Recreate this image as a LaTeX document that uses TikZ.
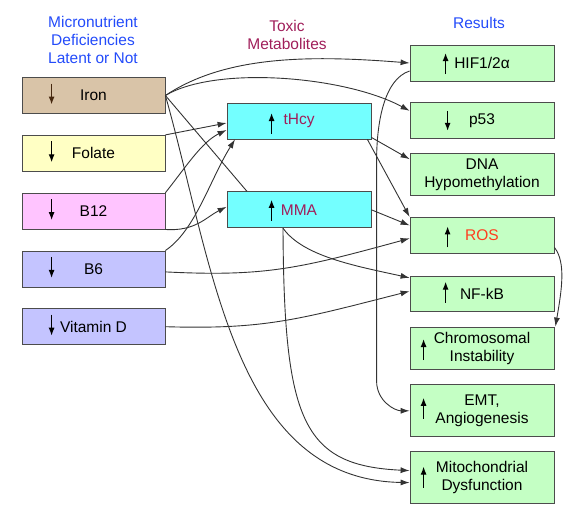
\documentclass[tikz,border=0pt]{standalone}
\usepackage{fontspec}
\setmainfont{Liberation Sans}
\usetikzlibrary{positioning, arrows.meta, calc}
\definecolor{ironfill}{RGB}{217,196,168}
\definecolor{folatefill}{RGB}{255,255,196}
\definecolor{btwelvefill}{RGB}{255,196,255}
\definecolor{bsixfill}{RGB}{196,196,255}
\definecolor{metafill}{RGB}{115,255,255}
\definecolor{resfill}{RGB}{196,255,196}
\definecolor{headblue}{RGB}{35,75,250}
\definecolor{maroon}{RGB}{160,30,90}
\definecolor{rosred}{RGB}{255,60,30}
\definecolor{ironmark}{RGB}{70,40,15}
\tikzset{
	>={Latex[length=9pt,width=6pt]},
	txt/.style={font=\fontsize{15.5}{18}\selectfont, align=center},
	box/.style={txt, draw=black!70, line width=0.8pt, minimum width=143pt, minimum height=36pt, inner sep=1pt},
	leftbox/.style={box},
	metabox/.style={box, fill=metafill, minimum width=144pt, text=maroon},
	resbox/.style={box, fill=resfill, minimum width=144pt},
	link/.style={->, draw=black!80, line width=0.9pt},
	updn/.style={-{Latex[length=8pt,width=6pt]}, line width=1.2pt},
}

\begin{document}
\begin{tikzpicture}[x=1pt, y=-1pt]
	\useasboundingbox (0,0) rectangle (563,514);

	% headers
	\node[txt, text=headblue] (defhead) at (93,40) {Micronutrient\\Deficiencies\\Latent or Not};
	\node[txt, text=maroon] (metahead) at (287,35) {Toxic\\Metabolites};
	\node[txt, text=headblue] (reshead) at (479,23) {Results};

	% deficiencies
	\node[leftbox, fill=ironfill] (Iron) at (93.5,95.5) {Iron};
	\node[leftbox, fill=folatefill, below=21pt of Iron] (Folate) {Folate};
	\node[leftbox, fill=btwelvefill, below=21pt of Folate] (B12) {B12};
	\node[leftbox, fill=bsixfill, below=21pt of B12] (B6) {B6};
	\node[leftbox, fill=bsixfill, below=21pt of B6] (VitD) {Vitamin D};

	% metabolites
	\node[metabox] (tHcy) at (299,121) {tHcy};
	\node[metabox, below=52pt of tHcy] (MMA) {MMA};

	% results
	\node[resbox] (HIF) at (482,63) {HIF1/2α};
	\node[resbox, below=21pt of HIF] (p53) {p53};
	\node[resbox, minimum height=42pt, below=14pt of p53] (DNA) {DNA\\Hypomethylation};
	\node[resbox, text=rosred, below=21pt of DNA] (ROS) {ROS};
	\node[resbox, minimum height=35pt, below=22pt of ROS] (NFkB) {NF-kB};
	\node[resbox, minimum height=42pt, below=15pt of NFkB] (Chrom) {Chromosomal\\Instability};
	\node[resbox, minimum height=52pt, below=15pt of Chrom] (EMT) {EMT,\\Angiogenesis};
	\node[resbox, minimum height=52pt, below=14pt of EMT] (Mito) {Mitochondrial\\Dysfunction};

	% up and down marks
	\foreach \n/\c in {Iron/ironmark, Folate/black, B12/black, B6/black, VitD/black}
		\draw[updn, \c] ($(\n.west)+(30,-12)$) -- ++(0,21);
	\draw[updn] ($(p53.west)+(38,-10)$) -- ++(0,20);
	\foreach \n/\dx/\dy in {tHcy/45/13, MMA/45/11, HIF/36/11, ROS/38/12, NFkB/36/9, Chrom/14/12, EMT/14/8, Mito/14/10}
		\draw[updn] ($(\n.west)+(\dx,\dy)$) -- ++(0,-21);

	% connectors
	\draw[link] (Iron.east) .. controls +(60,-40) and +(-100,-8) .. (HIF.west);
	\draw[link] (Iron.east) .. controls +(50,-30) and +(-65,-35) .. ([yshift=10pt]p53.west);
	\draw[link, -] (Iron.east) -- ([xshift=-52pt]MMA.north);
	\draw[link] (Iron.east) .. controls +(48,170) and +(-176,-3) .. ([yshift=-5pt]Mito.west);
	\draw[link] (Folate.north east) -- ([yshift=-2pt]tHcy.west);
	\draw[link] (B12.north east) .. controls +(20,-25) and +(-25,12) .. ([yshift=-9pt]tHcy.west);
	\draw[link] (B6.north east) .. controls +(30,-20) and +(-25,40) .. ([xshift=-64pt]tHcy.south);
	\draw[link] (B12.south east) .. controls +(30,2) and +(-20,10) .. ([yshift=3pt]MMA.west);
	\draw[link] ([yshift=-3pt]B6.east) .. controls +(100,5) and +(-110,30) .. ([yshift=-3pt]ROS.west);
	\draw[link] (VitD.east) .. controls +(100,3) and +(-110,28) .. ([yshift=2.5pt]NFkB.west);
	\draw[link] ([yshift=2pt]tHcy.south east) -- ([yshift=-6pt]DNA.north west);
	\draw[link] ([xshift=-4pt]tHcy.south east) -- (ROS.north west);
	\draw[link] (MMA.east) -- ([yshift=10pt]ROS.west);
	\draw[link] ([xshift=-16pt]MMA.south) .. controls +(20,28) and +(-55,-12) .. ([yshift=-2pt]NFkB.north west);
	\draw[link] ([xshift=-16pt]MMA.south) .. controls +(1,193) and +(-107,-5) .. ([yshift=7pt]Mito.west);
	\draw[link] ([yshift=-8pt]HIF.west) .. controls +(-25,8) and +(0,-40) .. ++(-33,90)
		-- ++(0,220) .. controls +(0,20) and +(-15,0) .. (EMT.west);
	\draw[link] ([yshift=-12pt]ROS.east) .. controls +(12,15) and +(6,-35) .. ([xshift=1pt]Chrom.north east);
\end{tikzpicture}
\end{document}
